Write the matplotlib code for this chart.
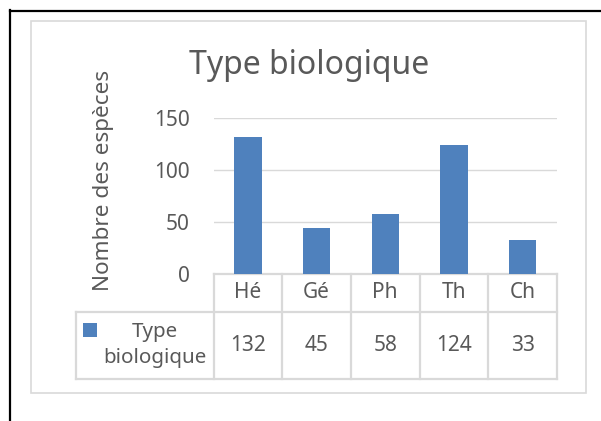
import matplotlib
matplotlib.use("Agg")
import matplotlib.pyplot as plt
from matplotlib.transforms import blended_transform_factory
from matplotlib.patches import Rectangle
from matplotlib.lines import Line2D

categories = ["Hé", "Gé", "Ph", "Th", "Ch"]
values = [132, 45, 58, 124, 33]
series_name = "Type biologique"
legend_label = "Type\nbiologique"
title = "Type biologique"
ylabel = "Nombre des espèces"
yticks = [0, 50, 100, 150]

plt.rcParams['font.family'] = ['Noto Sans', 'DejaVu Sans']
BAR = "#4F81BD"
TXT = "#595959"
GRID = "#D9D9D9"

W, H = 601, 421
fig = plt.figure(figsize=(W / 100, H / 100), dpi=100)

def fx(px):
    return px / W

def fy(py):
    return 1 - py / H

# outer borders
fig.add_artist(Line2D([fx(10.5), fx(10.5)], [fy(10), fy(421)], color="black", lw=1.6))
fig.add_artist(Line2D([fx(10), fx(601)], [fy(10.5), fy(10.5)], color="black", lw=1.6))
fig.add_artist(Rectangle((fx(30.7), fy(392.7)), fx(586) - fx(30.7), fy(20.7) - fy(392.7),
                         fill=False, edgecolor=GRID, lw=1.2))

left, right, top, bottom = 213.5, 557, 118.3, 274.3
ax = fig.add_axes([fx(left), fy(bottom), fx(right) - fx(left), fy(top) - fy(bottom)])
x = list(range(len(categories)))
ax.bar(x, values, width=0.4, color=BAR, zorder=3)
ax.set_xlim(-0.5, len(categories) - 0.5)
ax.set_ylim(0, 150)
ax.set_yticks(yticks)
ax.set_yticklabels([str(t) for t in yticks], fontsize=15, color=TXT)
ax.tick_params(axis="y", length=0, pad=17)
ax.set_xticks([])
for s in ax.spines.values():
    s.set_visible(False)
ax.grid(axis="y", color=GRID, lw=1.0, zorder=0)
ax.set_axisbelow(True)
ax.set_facecolor("none")

fig.text(fx(104), fy(180), ylabel, fontsize=16.2, color=TXT, rotation=90,
         ha="center", va="center")
fig.text(fx(309.5), fy(74), title, fontsize=23, color=TXT, ha="center", va="baseline")

# data table below the axes
tr = blended_transform_factory(ax.transData, ax.transAxes)
axh = bottom - top
catw = (right - left) / len(categories)
y0 = 0.0
y1 = -(311.7 - bottom) / axh
y2 = -(379 - bottom) / axh
n = len(categories)
lkw = dict(color=GRID, lw=1.6, transform=tr, clip_on=False)
ax.plot([-0.5, n - 0.5], [y0, y0], **lkw)
ax.plot([-2.5, n - 0.5], [y1, y1], **lkw)
ax.plot([-2.5, n - 0.5], [y2, y2], **lkw)
for k in range(n + 1):
    ax.plot([k - 0.5, k - 0.5], [y0, y2], **lkw)
ax.plot([-2.5, -2.5], [y1, y2], **lkw)

for i, (c, v) in enumerate(zip(categories, values)):
    ax.text(i, (y0 + y1) / 2, c, transform=tr, ha="center", va="center", fontsize=15, color=TXT)
    ax.text(i, (y1 + y2) / 2, str(v), transform=tr, ha="center", va="center", fontsize=15, color=TXT)

ax.add_patch(Rectangle((-0.5 + (83.5 - left) / catw, -(337 - bottom) / axh),
                       14 / catw, 14 / axh, transform=tr,
                       facecolor=BAR, edgecolor="none", clip_on=False))
ax.text(-0.5 + (154.5 - left) / catw, -(345 - bottom) / axh, legend_label,
        transform=tr, ha="center", va="center", multialignment="center",
        fontsize=14.8, color=TXT, linespacing=1.42)

fig.savefig("out.png", dpi=100)
